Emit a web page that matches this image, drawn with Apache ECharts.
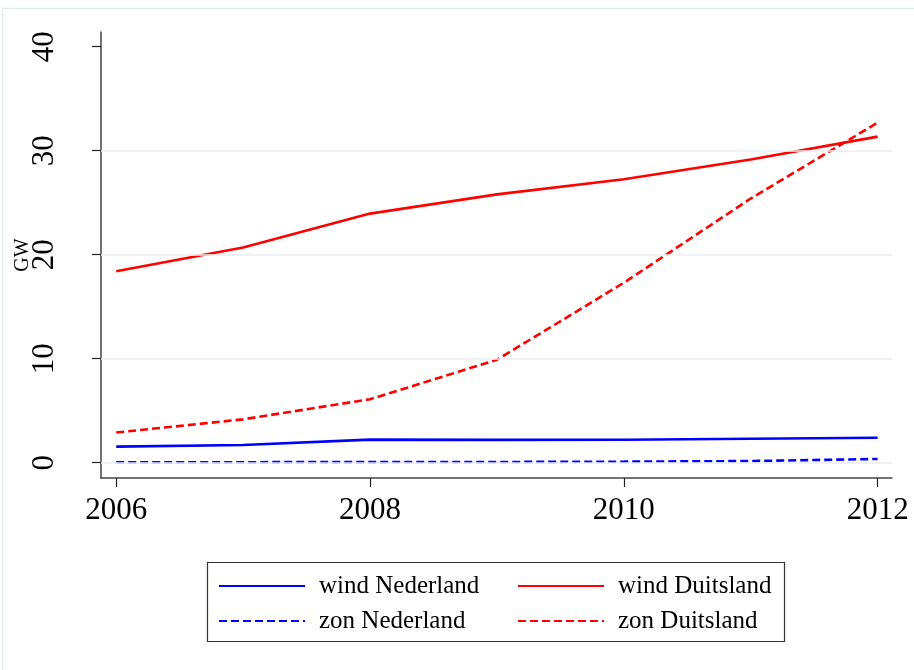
<!DOCTYPE html>
<html>
<head>
<meta charset="utf-8">
<script src="https://cdn.jsdelivr.net/npm/echarts@6/dist/echarts.min.js"></script>
<style>
html,body{margin:0;padding:0;background:#fff;}
#chart{width:914px;height:670px;}
</style>
</head>
<body>
<div id="chart"></div>
<script>
const years = [2006, 2007, 2008, 2009, 2010, 2011, 2012];
const windNederland = [1.55, 1.70, 2.22, 2.20, 2.21, 2.31, 2.40];
const zonNederland = [0.05, 0.05, 0.06, 0.07, 0.10, 0.16, 0.36];
const windDuitsland = [18.4, 20.7, 23.95, 25.8, 27.25, 29.15, 31.35];
const zonDuitsland = [2.9, 4.17, 6.1, 9.9, 17.3, 25.4, 32.7];
const xTicks = [2006, 2008, 2010, 2012];
const yTicks = [0, 10, 20, 30, 40];
const gridValues = [0, 10, 20, 30];
const yName = 'GW';
const names = ['wind Nederland', 'zon Nederland', 'wind Duitsland', 'zon Duitsland'];

const pair = arr => years.map((y, i) => [y, arr[i]]);
const serif = "'Liberation Serif', 'Times New Roman', serif";

const chart = echarts.init(document.getElementById('chart'), null, {renderer: 'canvas'});

function lineSeries(name, arr, color, dashed, z, extra) {
  return Object.assign({
    name: name,
    type: 'line',
    data: pair(arr),
    symbol: 'none',
    z: z,
    lineStyle: {color: color, width: 2.6, type: dashed ? [8, 4] : 'solid'},
    itemStyle: {color: color},
    animation: false
  }, extra || {});
}

const legendText = {fontFamily: serif, fontSize: 25, color: '#000', padding: [0, 0, 0, 9], lineHeight: 26};

chart.setOption({
  backgroundColor: '#fff',
  animation: false,
  graphic: [
    {type: 'rect', shape: {x: 2.5, y: 8.5, width: 960, height: 700}, style: {fill: 'none', stroke: '#e4ecee', lineWidth: 1.5}, silent: true, z: -10},
    {type: 'rect', shape: {x: 207.5, y: 562.5, width: 577, height: 79}, style: {fill: 'none', stroke: '#333', lineWidth: 1.2}, silent: true, z: 10}
  ],
  grid: {left: 101, top: 32, right: 22, bottom: 192, containLabel: false, outerBoundsMode: 'none'},
  xAxis: {
    type: 'value',
    min: 2005.88,
    max: 2012.113,
    axisLine: {show: true, onZero: false, lineStyle: {color: '#444', width: 1.5}},
    axisTick: {show: true, inside: false, length: 9, customValues: xTicks, lineStyle: {color: '#222', width: 1.2}},
    axisLabel: {customValues: xTicks, margin: 17, fontFamily: serif, fontSize: 31, color: '#000', formatter: v => String(v)},
    splitLine: {show: false}
  },
  yAxis: {
    type: 'value',
    min: -1.47,
    max: 41.41,
    name: yName,
    nameLocation: 'middle',
    nameRotate: 90,
    nameGap: 68,
    nameMoveOverlap: false,
    nameTextStyle: {fontFamily: serif, fontSize: 20, color: '#000'},
    axisLine: {show: true, onZero: false, lineStyle: {color: '#444', width: 1.5}},
    axisTick: {show: true, inside: false, length: 9, customValues: yTicks, lineStyle: {color: '#222', width: 1.2}},
    axisLabel: {customValues: yTicks, rotate: 90, margin: 41, fontFamily: serif, fontSize: 31, color: '#000', formatter: v => String(v)},
    splitLine: {show: false}
  },
  legend: [
    {
      orient: 'vertical', left: 218, top: 573, padding: 0, itemGap: 9,
      itemWidth: 86, itemHeight: 14,
      itemStyle: {opacity: 0},
      data: [names[0], names[1]],
      textStyle: legendText
    },
    {
      orient: 'vertical', left: 517, top: 573, padding: 0, itemGap: 9,
      itemWidth: 86, itemHeight: 14,
      itemStyle: {opacity: 0},
      data: [names[2], names[3]],
      textStyle: legendText
    }
  ],
  series: [
    lineSeries(names[0], windNederland, '#0000ff', false, 3, {
      markLine: {
        silent: true, symbol: 'none', animation: false,
        label: {show: false},
        lineStyle: {color: '#e8eef1', width: 1.5, type: 'solid'},
        emphasis: {disabled: true},
        data: gridValues.map(v => ({yAxis: v}))
      }
    }),
    lineSeries(names[1], zonNederland, '#0000ff', true, 3),
    lineSeries(names[2], windDuitsland, '#ff0000', false, 4),
    lineSeries(names[3], zonDuitsland, '#ff0000', true, 4)
  ]
});
</script>
</body>
</html>
